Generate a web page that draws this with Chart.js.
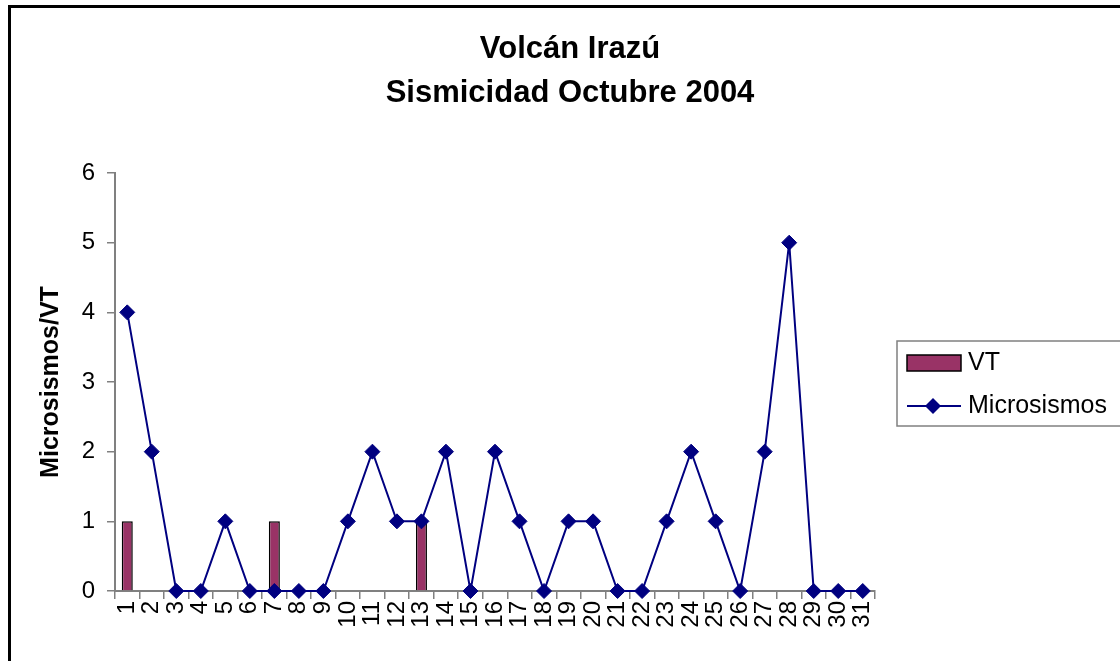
<!DOCTYPE html>
<html>
<head>
<meta charset="utf-8">
<script src="https://cdn.jsdelivr.net/npm/chart.js@4.4.1/dist/chart.umd.min.js"></script>
<style>
  html, body { margin: 0; padding: 0; background: #fff; overflow: hidden; }
  #wrap { position: relative; width: 1120px; height: 661px; }
  #frame { position: absolute; left: 8px; top: 5px; width: 1300px; height: 900px; border: 3px solid #000; }
  #c { position: absolute; left: 0; top: 0; }
</style>
</head>
<body>
<div id="wrap">
  <div id="frame"></div>
  <canvas id="c" width="1120" height="661"></canvas>
</div>
<script>
const days = ['1','2','3','4','5','6','7','8','9','10','11','12','13','14','15','16','17','18','19','20','21','22','23','24','25','26','27','28','29','30','31'];
const vt = [1,0,0,0,0,0,1,0,0,0,0,0,1,0,0,0,0,0,0,0,0,0,0,0,0,0,0,0,0,0,0];
const microsismos = [4,2,0,0,1,0,0,0,0,1,2,1,1,2,0,2,1,0,1,1,0,0,1,2,1,0,2,5,0,0,0];
const yTicks = [0,1,2,3,4,5,6];

const FONT = "'Liberation Sans', Arial, sans-serif";

// legend with a box around it, drawn on the right side
const boxLegend = {
  id: 'boxLegend',
  afterDraw(chart) {
    const ctx = chart.ctx;
    const ds = chart.data.datasets;
    ctx.save();
    ctx.strokeStyle = '#808080';
    ctx.lineWidth = 1.5;
    ctx.strokeRect(897, 341, 240, 85);
    ctx.font = '25px ' + FONT;
    ctx.fillStyle = '#000';
    ctx.textBaseline = 'middle';
    // VT
    ctx.fillStyle = ds[0].backgroundColor;
    ctx.fillRect(907, 355, 54, 16);
    ctx.strokeStyle = '#000';
    ctx.lineWidth = 1.5;
    ctx.strokeRect(907, 355, 54, 16);
    ctx.fillStyle = '#000';
    ctx.fillText(ds[0].label, 968, 363);
    // Microsismos
    ctx.strokeStyle = ds[1].borderColor;
    ctx.lineWidth = 2;
    ctx.beginPath();
    ctx.moveTo(907, 406);
    ctx.lineTo(961, 406);
    ctx.stroke();
    ctx.fillStyle = ds[1].pointBackgroundColor;
    ctx.beginPath();
    ctx.moveTo(925, 406); ctx.lineTo(933, 398); ctx.lineTo(941, 406); ctx.lineTo(933, 414);
    ctx.closePath();
    ctx.fill();
    ctx.fillStyle = '#000';
    ctx.fillText(ds[1].label, 968, 406);
    ctx.restore();
  }
};

new Chart(document.getElementById('c'), {
  type: 'bar',
  data: {
    labels: days,
    datasets: [{
      type: 'bar',
      label: 'VT',
      data: vt,
      backgroundColor: '#993366',
      borderColor: '#000',
      borderWidth: 1.5,
      barPercentage: 0.45,
      categoryPercentage: 1,
      order: 1
    }, {
      type: 'line',
      label: 'Microsismos',
      data: microsismos,
      borderColor: '#000080',
      borderWidth: 2,
      pointStyle: 'rectRot',
      pointRadius: 7.5,
      pointBackgroundColor: '#000080',
      pointBorderColor: '#000080',
      pointBorderWidth: 1,
      tension: 0,
      clip: false,
      order: 0
    }]
  },
  options: {
    responsive: false,
    animation: false,
    layout: { padding: { left: 20, right: 0, top: 0, bottom: 0 } },
    plugins: {
      legend: { display: false },
      tooltip: { enabled: false },
      title: {
        display: true,
        text: ['Volcán Irazú', 'Sismicidad Octubre 2004'],
        color: '#000',
        font: { family: FONT, size: 31, weight: 'bold', lineHeight: 1.42 },
        padding: { top: 27, bottom: 58 }
      }
    },
    scales: {
      x: {
        offset: true,
        grid: { display: true, drawOnChartArea: false, drawTicks: true, tickLength: 8, color: '#808080', lineWidth: 1.5, offset: true },
        border: { display: true, color: '#808080', width: 2 },
        ticks: { color: '#000', font: { family: FONT, size: 24 }, minRotation: 90, maxRotation: 90, autoSkip: false, padding: 2 },
        afterFit(scale) { scale.height = 70; }
      },
      y: {
        min: 0,
        max: 6,
        afterBuildTicks(scale) { scale.ticks = yTicks.map(v => ({ value: v })); },
        grid: { display: true, drawOnChartArea: false, drawTicks: true, tickLength: 8, color: '#808080', lineWidth: 1.5 },
        border: { display: true, color: '#808080', width: 2 },
        ticks: { color: '#000', font: { family: FONT, size: 24 }, padding: 12 },
        title: {
          display: true,
          text: 'Microsismos/VT',
          color: '#000',
          font: { family: FONT, size: 25, weight: 'bold', lineHeight: 1.2 },
          padding: { top: 16, bottom: 0 }
        },
        afterFit(scale) { scale.width = 95; }
      },
      // empty right-hand axis that reserves the room where the legend sits
      yRight: {
        position: 'right',
        min: 0,
        max: 6,
        grid: { display: false },
        border: { display: false },
        ticks: { display: false },
        afterFit(scale) { scale.width = 245; }
      }
    }
  },
  plugins: [boxLegend]
});
</script>
</body>
</html>
